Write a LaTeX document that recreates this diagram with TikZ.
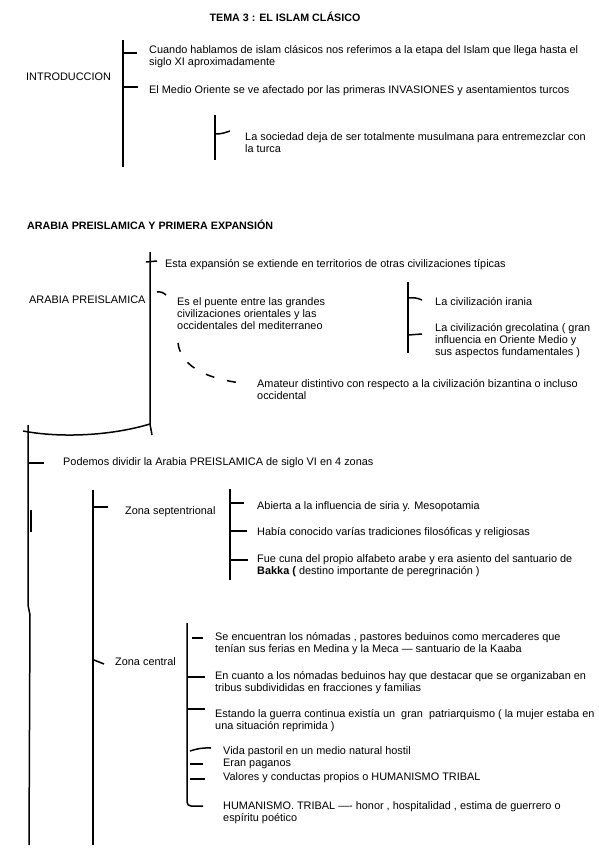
\documentclass[tikz,border=0pt]{standalone}
\usepackage{fontspec}
\setmainfont{Liberation Sans}
\usetikzlibrary{positioning}
\tikzset{
  txt/.style={anchor=west, inner sep=0pt, font=\fontsize{10.9}{12}\selectfont},
  para/.style={anchor=north west, align=left, inner sep=0pt, font=\fontsize{10.9}{12.2}\selectfont},
  hd/.style={inner sep=0pt, font=\bfseries\fontsize{10.7}{12}\selectfont},
  brk/.style={line width=1.5pt},
}

\begin{document}
\begin{tikzpicture}[x=1pt,y=-1pt]
    \useasboundingbox (0,0) rectangle (599,848);

    % tema 3
    \node[hd] (tema) at (285,17) {TEMA 3 : EL ISLAM CLÁSICO};

    \node[txt] (intro) at (26,77) {INTRODUCCION};
    \draw[brk] (123,40) -- (123,167);
    \draw[brk] (123,53) -- (137,53);
    \draw[brk] (123,87) -- (138,87);
    \node[para] (cuando) at (149,45) {Cuando hablamos de islam clásicos nos referimos a la etapa del Islam que llega hasta el\\siglo XI aproximadamente};
    \node[txt] (medio) at (149,91) {El Medio Oriente se ve afectado por las primeras INVASIONES y asentamientos turcos};

    \draw[brk] (215,115) -- (215,160);
    \draw[brk] (215,134) to[out=0,in=200] (230,131);
    \node[para] (sociedad) at (245,132) {La sociedad deja de ser totalmente musulmana para entremezclar con\\la turca};

    % arabia preislamica
    \node[hd,anchor=west] (arabiaT) at (27,225) {ARABIA PREISLAMICA Y PRIMERA EXPANSIÓN};

    \node[txt] (arabia) at (29,300) {ARABIA PREISLAMICA};
    \draw[brk] (150,252) -- (150,424) -- (152,435);
    \draw[brk] (146,262) -- (157,261);
    \node[txt] (esta) at (165,265) {Esta expansión se extiende en territorios de otras civilizaciones típicas};

    \draw[brk] (157,292) to[bend left=25] (166,295);
    \node[para] (puente) at (177,297) {Es el puente entre las grandes\\civilizaciones orientales y las\\occidentales del mediterraneo};
    \draw[brk,dash pattern=on 9pt off 13pt] (178,343) .. controls (181,368) and (210,379) .. (241,383);
    \node[para] (amateur) at (257,379) {Amateur distintivo con respecto a la civilización bizantina o incluso\\occidental};

    \draw[brk] (408,282) -- (408,353);
    \draw[brk] (408,298) to[bend left=15] (422,300);
    \draw[brk] (408,335) -- (422,334);
    \node[txt] (irania) at (435,302) {La civilización irania};
    \node[para] (greco) at (435,323) {La civilización grecolatina ( gran\\influencia en Oriente Medio y\\sus aspectos fundamentales )};

    % zonas
    \draw[brk] (23,431) .. controls (60,438) and (110,436) .. (150,424);
    \draw[brk] (28,425) -- (28,605) -- (30,615) -- (29,845);
    \draw[brk] (31,510) -- (31,532);
    \draw[brk] (28,463) -- (44,463);
    \node[txt] (podemos) at (63,463) {Podemos dividir la Arabia PREISLAMICA de siglo VI en 4 zonas};

    \draw[brk] (93,490) -- (93,845);
    \draw[brk] (93,507) -- (108,507);
    \node[txt] (sept) at (125,512) {Zona septentrional};

    \draw[brk] (230,489) -- (230,580);
    \draw[brk] (230,503) -- (244,503);
    \draw[brk] (230,531) -- (247,531);
    \draw[brk] (230,560) -- (248,560);
    \node[txt] (abierta) at (257,507) {Abierta a la influencia de siria y. Mesopotamia};
    \node[txt] (habia) at (257,533) {Había conocido varías tradiciones filosóficas y religiosas};
    \node[para] (cuna) at (257,554) {Fue cuna del propio alfabeto arabe y era asiento del santuario de\\\textbf{Bakka (} destino importante de peregrinación )};

    \draw[brk] (94,660) -- (104,664);
    \node[txt] (central) at (115,662) {Zona central};

    \draw[brk] (187,623) -- (187,802) to[out=-90,in=180] (191,806) -- (203,806);
    \draw[brk] (192,638) -- (203,638);
    \draw[brk] (187,677) -- (205,677);
    \draw[brk] (187,709) -- (205,709);
    \draw[brk] (190,751) to[bend left=10] (211,748);
    \draw[brk] (190,764) -- (203,764);
    \draw[brk] (190,779) -- (205,779);
    \node[para] (nomadas) at (215,632) {Se encuentran los nómadas , pastores beduinos como mercaderes que\\tenían sus ferias en Medina y la Meca — santuario de la Kaaba};
    \node[para] (tribus) at (215,671) {En cuanto a los nómadas beduinos hay que destacar que se organizaban en\\tribus subdivididas en fracciones y familias};
    \node[para] (guerra) at (215,709) {Estando la guerra continua existía un \ gran \ patriarquismo ( la mujer estaba en\\una situación reprimida )};
    \node[txt] (vida) at (223,752) {Vida pastoril en un medio natural hostil};
    \node[txt] (paganos) at (223,764) {Eran paganos};
    \node[txt] (valores) at (223,778) {Valores y conductas propios o HUMANISMO TRIBAL};
    \node[para] (humanismo) at (223,801) {HUMANISMO. TRIBAL —- honor , hospitalidad , estima de guerrero o\\espíritu poético};
\end{tikzpicture}
\end{document}
